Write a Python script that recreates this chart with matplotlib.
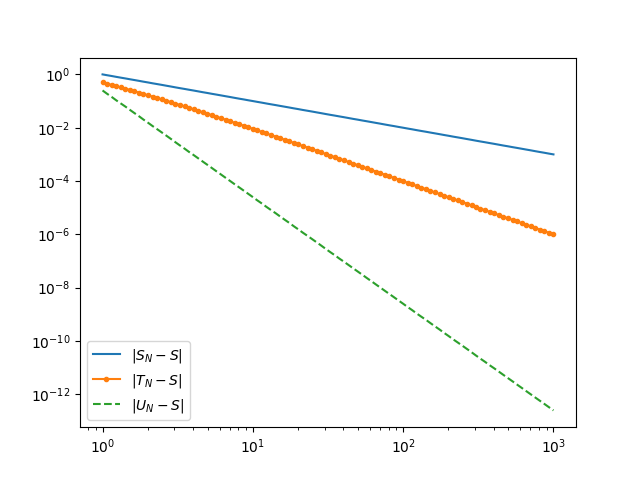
import matplotlib
matplotlib.use("Agg")
import matplotlib.pyplot as plt

# sample points N (log spaced, 1 .. 1000)
N = [1.00, 1.07, 1.15, 1.23, 1.32, 1.42, 1.52, 1.63, 1.75, 1.87,
     2.01, 2.15, 2.31, 2.48, 2.66, 2.85, 3.05, 3.27, 3.51, 3.76,
     4.04, 4.33, 4.64, 4.98, 5.34, 5.72, 6.14, 6.58, 7.05, 7.56,
     8.11, 8.70, 9.33,
     10.0, 10.7, 11.5, 12.3, 13.2, 14.2, 15.2, 16.3, 17.5, 18.7,
     20.1, 21.5, 23.1, 24.8, 26.6, 28.5, 30.5, 32.7, 35.1, 37.6,
     40.4, 43.3, 46.4, 49.8, 53.4, 57.2, 61.4, 65.8, 70.5, 75.6,
     81.1, 87.0, 93.3,
     100, 107, 115, 123, 132, 142, 152, 163, 175, 187,
     201, 215, 231, 248, 266, 285, 305, 327, 351, 376,
     404, 433, 464, 498, 534, 572, 614, 658, 705, 756,
     811, 870, 933, 1000]

# |S_N - S|
err_S = [1.0, 0.933, 0.870, 0.811, 0.756, 0.705, 0.658, 0.614, 0.572, 0.534,
         0.498, 0.464, 0.433, 0.404, 0.376, 0.351, 0.327, 0.305, 0.285, 0.266,
         0.248, 0.231, 0.215, 0.201, 0.187, 0.175, 0.163, 0.152, 0.142, 0.132,
         0.123, 0.115, 0.107,
         0.1, 0.0933, 0.0870, 0.0811, 0.0756, 0.0705, 0.0658, 0.0614, 0.0572, 0.0534,
         0.0498, 0.0464, 0.0433, 0.0404, 0.0376, 0.0351, 0.0327, 0.0305, 0.0285, 0.0266,
         0.0248, 0.0231, 0.0215, 0.0201, 0.0187, 0.0175, 0.0163, 0.0152, 0.0142, 0.0132,
         0.0123, 0.0115, 0.0107,
         0.01, 0.00933, 0.00870, 0.00811, 0.00756, 0.00705, 0.00658, 0.00614, 0.00572, 0.00534,
         0.00498, 0.00464, 0.00433, 0.00404, 0.00376, 0.00351, 0.00327, 0.00305, 0.00285, 0.00266,
         0.00248, 0.00231, 0.00215, 0.00201, 0.00187, 0.00175, 0.00163, 0.00152, 0.00142, 0.00132,
         0.00123, 0.00115, 0.00107, 0.001]

# |T_N - S|
err_T = [0.5, 0.450, 0.405, 0.363, 0.326, 0.292, 0.261, 0.233, 0.208, 0.186,
         0.165, 0.147, 0.131, 0.116, 0.103, 0.0912, 0.0808, 0.0714, 0.0631, 0.0557,
         0.0492, 0.0434, 0.0382, 0.0336, 0.0296, 0.0260, 0.0228, 0.0201, 0.0176, 0.0154,
         0.0135, 0.0119, 0.0104,
         9.09e-3, 7.96e-3, 6.96e-3, 6.09e-3, 5.32e-3, 4.65e-3, 4.06e-3, 3.55e-3, 3.10e-3, 2.70e-3,
         2.36e-3, 2.06e-3, 1.80e-3, 1.57e-3, 1.37e-3, 1.19e-3, 1.04e-3, 9.05e-4, 7.89e-4, 6.87e-4,
         5.99e-4, 5.22e-4, 4.54e-4, 3.96e-4, 3.45e-4, 3.00e-4, 2.61e-4, 2.28e-4, 1.98e-4, 1.73e-4,
         1.50e-4, 1.31e-4, 1.14e-4,
         9.90e-5, 8.62e-5, 7.50e-5, 6.53e-5, 5.68e-5, 4.94e-5, 4.30e-5, 3.74e-5, 3.26e-5, 2.83e-5,
         2.47e-5, 2.14e-5, 1.87e-5, 1.62e-5, 1.41e-5, 1.23e-5, 1.07e-5, 9.30e-6, 8.09e-6, 7.04e-6,
         6.12e-6, 5.32e-6, 4.63e-6, 4.03e-6, 3.51e-6, 3.05e-6, 2.65e-6, 2.31e-6, 2.01e-6, 1.75e-6,
         1.52e-6, 1.32e-6, 1.15e-6, 9.99e-7]

# |U_N - S|
err_U = [0.25, 0.189, 0.143, 0.108, 0.0819, 0.0619, 0.0468, 0.0354, 0.0268, 0.0203,
         0.0153, 0.0116, 8.78e-3, 6.64e-3, 5.02e-3, 3.80e-3, 2.87e-3, 2.17e-3, 1.65e-3, 1.24e-3,
         9.41e-4, 7.12e-4, 5.39e-4, 4.07e-4, 3.08e-4, 2.33e-4, 1.76e-4, 1.33e-4, 1.01e-4, 7.63e-5,
         5.78e-5, 4.37e-5, 3.30e-5,
         2.50e-5, 1.89e-5, 1.43e-5, 1.08e-5, 8.19e-6, 6.19e-6, 4.68e-6, 3.54e-6, 2.68e-6, 2.03e-6,
         1.53e-6, 1.16e-6, 8.78e-7, 6.64e-7, 5.02e-7, 3.80e-7, 2.87e-7, 2.17e-7, 1.65e-7, 1.24e-7,
         9.41e-8, 7.12e-8, 5.39e-8, 4.07e-8, 3.08e-8, 2.33e-8, 1.76e-8, 1.33e-8, 1.01e-8, 7.63e-9,
         5.78e-9, 4.37e-9, 3.30e-9,
         2.50e-9, 1.89e-9, 1.43e-9, 1.08e-9, 8.19e-10, 6.19e-10, 4.68e-10, 3.54e-10, 2.68e-10, 2.03e-10,
         1.53e-10, 1.16e-10, 8.78e-11, 6.64e-11, 5.02e-11, 3.80e-11, 2.87e-11, 2.17e-11, 1.65e-11, 1.24e-11,
         9.41e-12, 7.12e-12, 5.39e-12, 4.07e-12, 3.08e-12, 2.33e-12, 1.76e-12, 1.33e-12, 1.01e-12, 7.63e-13,
         5.78e-13, 4.37e-13, 3.30e-13, 2.50e-13]

fig, ax = plt.subplots(figsize=(6.4, 4.8), dpi=100)

ax.loglog(N, err_S, "-", label=r"$|S_N - S|$")
ax.loglog(N, err_T, ".-", label=r"$|T_N - S|$")
ax.loglog(N, err_U, "--", label=r"$|U_N - S|$")

ax.legend(loc="lower left")

fig.savefig("out.png")
